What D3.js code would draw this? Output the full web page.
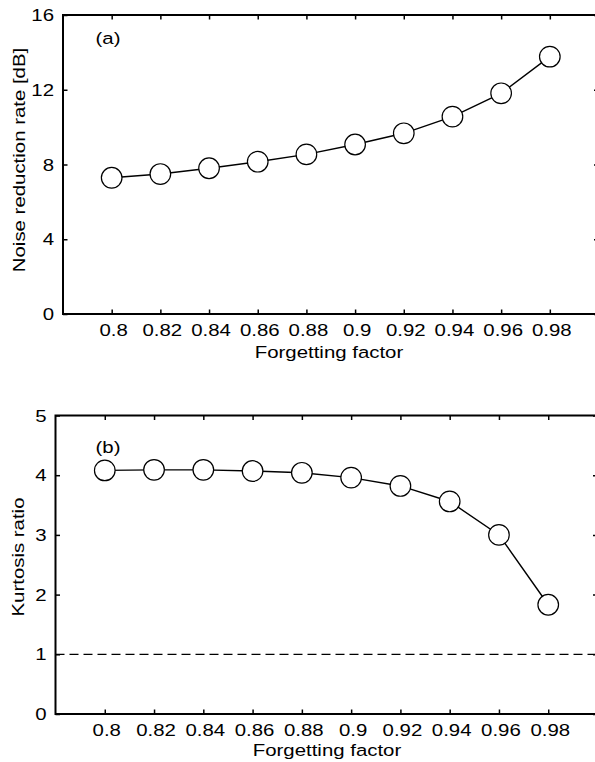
<!DOCTYPE html>
<html><head><meta charset="utf-8">
<script src="https://cdn.jsdelivr.net/npm/d3@7"></script>
<style>body{margin:0;background:#fff}svg text{font-family:"Liberation Sans",Arial,sans-serif;fill:#000}</style>
</head><body>
<svg id="c" width="595" height="762"></svg>
<script>
const factors = [0.80,0.82,0.84,0.86,0.88,0.90,0.92,0.94,0.96,0.98];
const noiseReduction = [7.29,7.49,7.80,8.15,8.54,9.07,9.67,10.56,11.81,13.77];
const kurtosisRatio = [4.08,4.09,4.09,4.07,4.04,3.96,3.82,3.56,3.00,1.83];
const xTicks = [0.80,0.82,0.84,0.86,0.88,0.90,0.92,0.94,0.96,0.98];
const yTicksA = [0,4,8,12,16];
const yTicksB = [0,1,2,3,4,5];
const xTickLabels = ["0.8","0.82","0.84","0.86","0.88","0.9","0.92","0.94","0.96","0.98"];

const svg = d3.select("#c");
const FS = 17;     // font size (glyph height)
const SX = 1.2;    // horizontal widening of the reference glyphs

function txt(g, x, y, s, anchor, rot){
  const t = g.append("text").attr("font-size",FS).attr("text-anchor",anchor||"start").text(s);
  t.attr("transform",`translate(${x},${y})` + (rot?` rotate(${rot})`:"") + ` scale(${SX},1)`);
  return t;
}

function panel(o){
  const g = svg.append("g");
  const x = d3.scaleLinear().domain([0.78,1.0]).range([o.left,o.right]);
  const y = d3.scaleLinear().domain(o.ydom).range([o.bottom,o.top]);
  if (o.refLine!==undefined){
    g.append("line").attr("x1",o.left).attr("x2",o.right)
      .attr("y1",y(o.refLine)).attr("y2",y(o.refLine))
      .attr("stroke","#000").attr("stroke-width",1.3).attr("stroke-dasharray","9,5");
  }
  const tl = 4.5;
  const ax = g.append("g");
  ax.append("g").attr("transform",`translate(0,${o.bottom})`)
    .call(d3.axisBottom(x).tickValues(xTicks).tickSize(-tl).tickFormat(""))
    .call(s=>{s.select(".domain").remove();});
  ax.append("g").attr("transform",`translate(0,${o.top})`)
    .call(d3.axisTop(x).tickValues(xTicks).tickSize(-tl).tickFormat(""))
    .call(s=>{s.select(".domain").remove();});
  ax.append("g").attr("transform",`translate(${o.left},0)`)
    .call(d3.axisLeft(y).tickValues(o.yticks).tickSize(-tl).tickFormat(""))
    .call(s=>{s.select(".domain").remove();});
  ax.append("g").attr("transform",`translate(${o.right},0)`)
    .call(d3.axisRight(y).tickValues(o.yticks).tickSize(-tl).tickFormat(""))
    .call(s=>{s.select(".domain").remove();});
  ax.selectAll(".tick line").attr("stroke","#000").attr("stroke-width",1.5);
  ax.selectAll(".tick text").remove();
  xTicks.forEach((v,i)=>txt(g, x(v)+2, o.bottom+o.xtickDy, xTickLabels[i], "middle"));
  o.yticks.forEach(v=>txt(g, o.left-9, y(v)+6, d3.format("d")(v), "end"));
  g.append("rect").attr("x",o.left).attr("y",o.top).attr("width",o.right-o.left).attr("height",o.bottom-o.top)
    .attr("fill","none").attr("stroke","#000").attr("stroke-width",2);
  const line = d3.line().x((d,i)=>x(factors[i])).y(d=>y(d));
  g.append("path").datum(o.data).attr("d",line).attr("fill","none").attr("stroke","#000").attr("stroke-width",1.4);
  g.selectAll("circle").data(o.data).join("circle")
    .attr("cx",(d,i)=>x(factors[i])).attr("cy",d=>y(d)).attr("r",10.3)
    .attr("fill","#fff").attr("stroke","#000").attr("stroke-width",1.2);
  txt(g, o.tagX, o.tagY, o.tag, "start");
  txt(g, o.xlabX, o.xlabY, "Forgetting factor", "middle");
  txt(g, o.ylabX, o.ylabY, o.ylab, "middle", -90);
}

panel({left:63,right:598.5,top:15,bottom:314,ydom:[0,16],yticks:yTicksA,data:noiseReduction,xtickDy:22,
  tag:"(a)",tagX:95.5,tagY:44,xlabX:329,xlabY:357.5,ylabX:25,ylabY:160,ylab:"Noise reduction rate [dB]"});
panel({left:55.5,right:597.5,top:415.5,bottom:714,ydom:[0,5],yticks:yTicksB,data:kurtosisRatio,refLine:1,xtickDy:22,
  tag:"(b)",tagX:95.5,tagY:452.5,xlabX:327,xlabY:756,ylabX:24,ylabY:557,ylab:"Kurtosis ratio"});
</script>
</body></html>
